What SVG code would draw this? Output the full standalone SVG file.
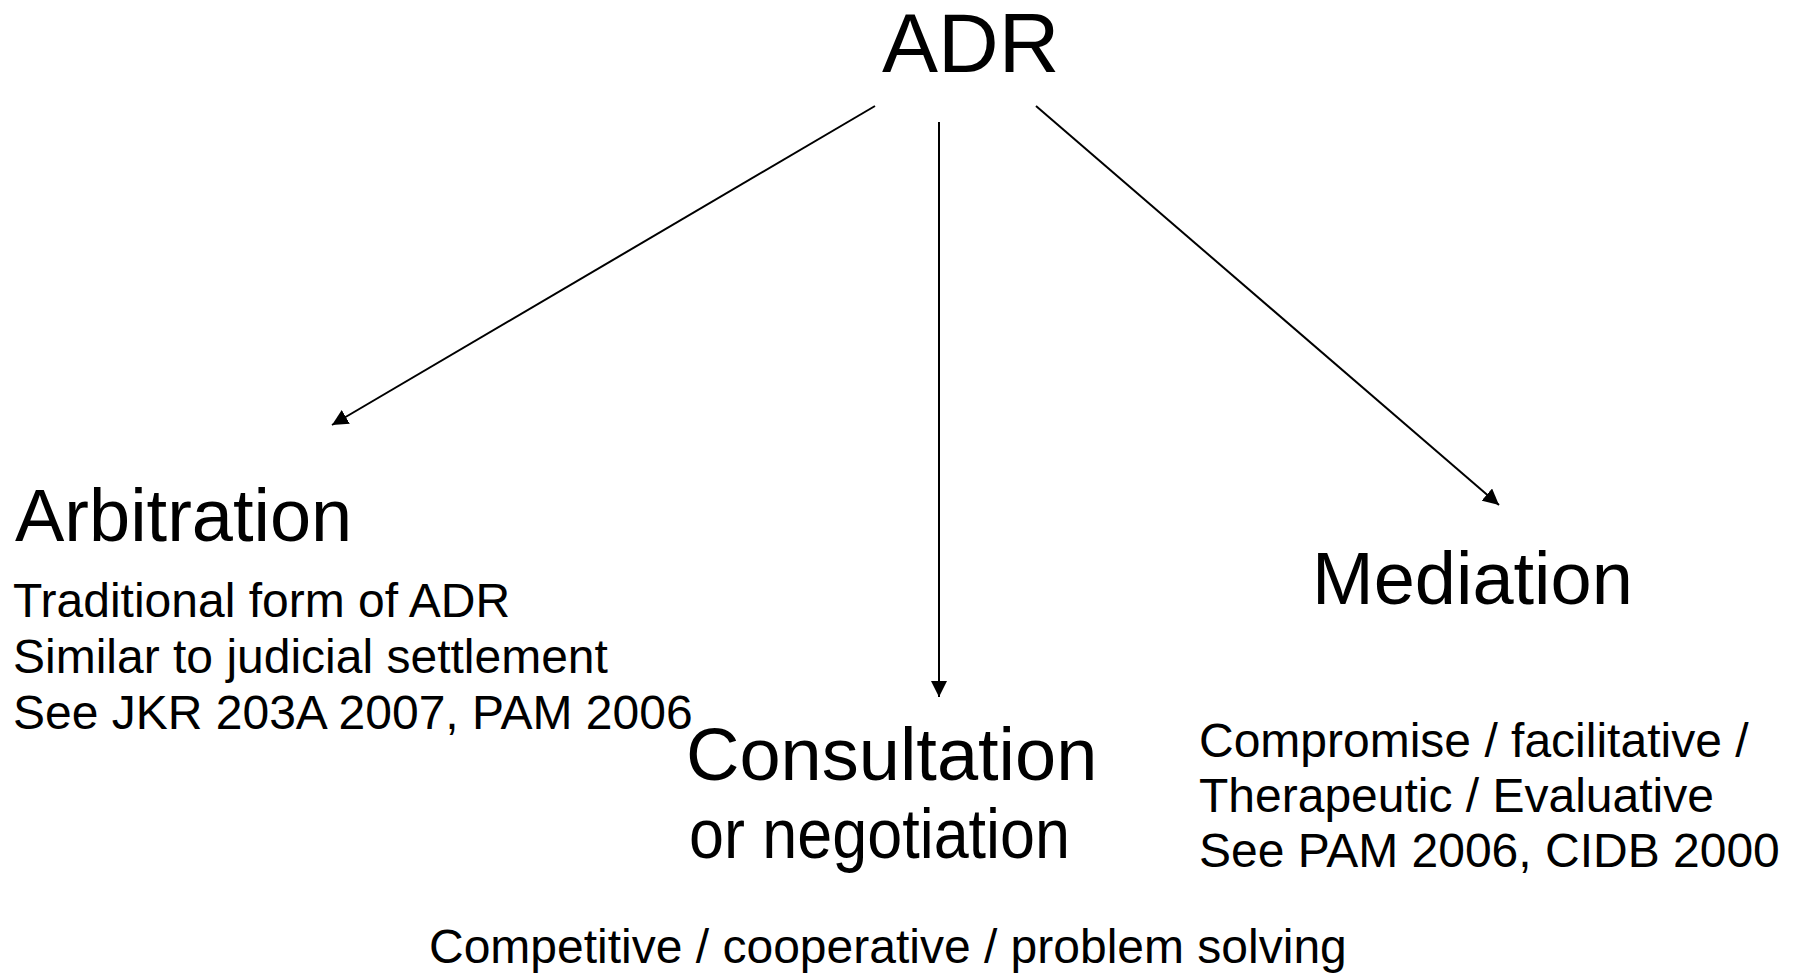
<svg xmlns="http://www.w3.org/2000/svg" width="1800" height="973" viewBox="0 0 1800 973">
  <style>
    text { font-family: "Liberation Sans", Arial, sans-serif; fill: #000; }
    .title { font-size: 84px; }
    .head { font-size: 74px; }
    .sub { font-size: 70px; }
    .note { font-size: 48px; }
    .link { stroke: #000; stroke-width: 2; fill: none; marker-end: url(#arrow); }
  </style>
  <defs>
    <marker id="arrow" markerUnits="userSpaceOnUse" markerWidth="16" markerHeight="16" viewBox="0 0 16 16" refX="16" refY="8" orient="auto">
      <path d="M0,0 L16,8 L0,16 z" fill="#000"/>
    </marker>
  </defs>
  <rect width="1800" height="973" fill="#fff"/>

  <g id="connectors">
    <line class="link" x1="875" y1="106" x2="332" y2="425"/>
    <line class="link" x1="939" y1="122" x2="939" y2="697"/>
    <line class="link" x1="1036" y1="106" x2="1499" y2="505"/>
  </g>

  <g id="adr">
    <text class="title" x="882" y="72">ADR</text>
  </g>

  <g id="arbitration">
    <text class="head" x="15" y="541">Arbitration</text>
    <text class="note" x="13" y="617">Traditional form of ADR</text>
    <text class="note" x="13" y="673">Similar to judicial settlement</text>
    <text class="note" x="13" y="729">See JKR 203A 2007, PAM 2006</text>
  </g>

  <g id="consultation">
    <text class="head" x="686" y="780">Consultation</text>
    <text class="sub" x="689" y="858" textLength="381" lengthAdjust="spacingAndGlyphs">or negotiation</text>
    <text class="note" x="429" y="963">Competitive / cooperative / problem solving</text>
  </g>

  <g id="mediation">
    <text class="head" x="1312" y="604">Mediation</text>
    <text class="note" x="1199" y="757">Compromise / facilitative /</text>
    <text class="note" x="1199" y="812">Therapeutic / Evaluative</text>
    <text class="note" x="1199" y="867">See PAM 2006, CIDB 2000</text>
  </g>
</svg>
